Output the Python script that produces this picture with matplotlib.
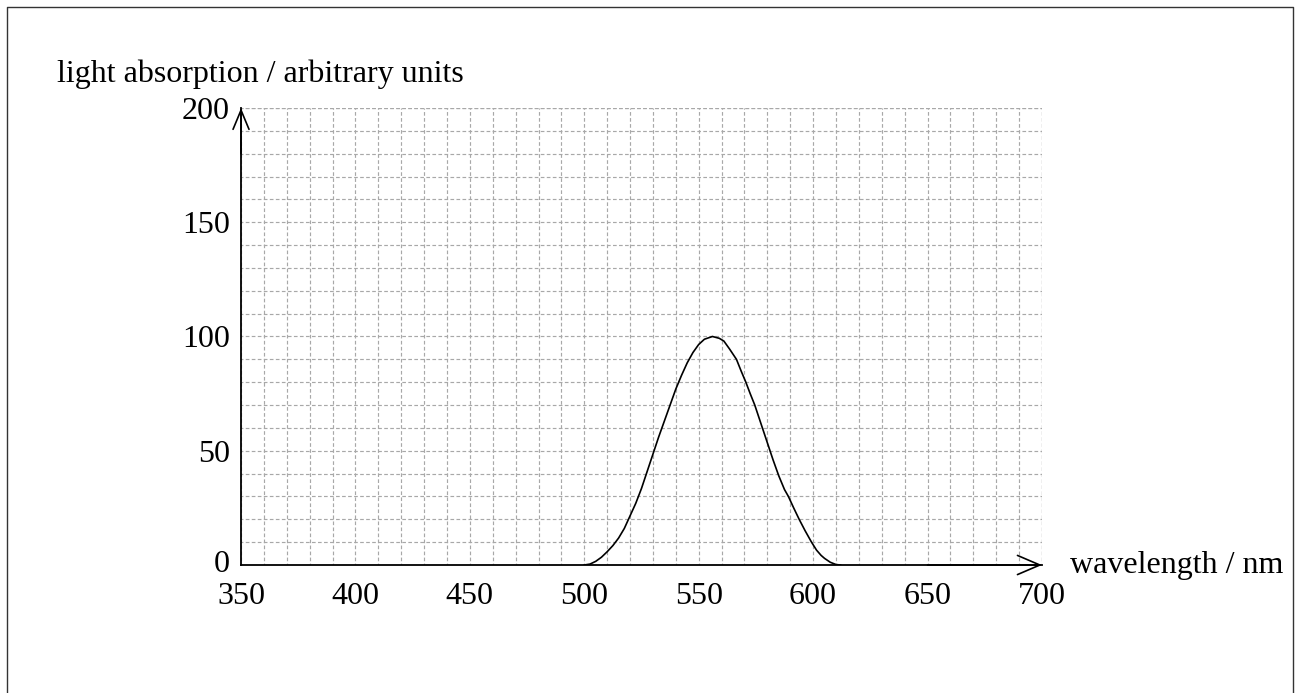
import matplotlib.pyplot as plt
import matplotlib.transforms as mtransforms
from matplotlib.lines import Line2D

# curve
wavelength = [500, 502.5, 505, 507.5, 510, 512.5, 515, 517.5, 520, 522.5, 525,
              527.5, 530, 532.5, 535, 537.5, 540, 542.5, 545, 547.5, 550,
              552.5, 556, 559, 561, 563.5, 566.5, 568.5, 570.6, 572.5, 574.5,
              577, 580, 582.5, 585, 587.5, 589.2, 591.5, 593.9, 596.5, 599.3,
              601.5, 603.5, 605, 607.5, 610, 612]
absorption = [0, 0.4, 1.6, 3.4, 5.8, 8.5, 11.8, 16, 21.5, 27, 33.5,
              41, 48.5, 56, 63, 70, 77, 83, 88.5, 93, 96.5,
              98.8, 100, 99.2, 98, 94.5, 90, 85, 80, 75, 70,
              62.5, 53.5, 46, 39, 33, 30, 25, 20, 15, 10,
              6.5, 4.2, 2.9, 1.2, 0.2, 0]

x_ticks = [350, 400, 450, 500, 550, 600, 650, 700]
y_ticks = [0, 50, 100, 150, 200]

plt.rcParams['font.family'] = ['Liberation Serif', 'DejaVu Serif']
plt.rcParams['font.size'] = 23

fig = plt.figure(figsize=(13, 6.93), dpi=100)
ax = fig.add_axes([0.1854, 0.1847, 0.6161, 0.6595])

ax.plot(wavelength, absorption, color='black', lw=1.2)

ax.set_xlim(350, 700)
ax.set_ylim(0, 200)
ax.set_xticks(x_ticks)
ax.set_yticks(y_ticks)
ax.set_xticks(range(350, 701, 10), minor=True)
ax.set_yticks(range(0, 201, 10), minor=True)
ax.tick_params(which='both', length=0)
ax.tick_params(axis='x', pad=12)
ax.tick_params(axis='y', pad=8)

# lift the "0" a little, as in the original
lbl0 = ax.get_yticklabels()[0]
lbl0.set_transform(lbl0.get_transform() +
                   mtransforms.ScaledTranslation(0, 4 / 100, fig.dpi_scale_trans))

grid_ls = (1.5, (3.1, 2.0))
ax.grid(True, which='both', color='#a8a8a8', lw=0.85, linestyle=grid_ls)
ax.set_axisbelow(True)

for s in ['top', 'right']:
    ax.spines[s].set_visible(False)
for s in ['left', 'bottom']:
    ax.spines[s].set_linewidth(1.3)

# right and top grid edge
ax.axvline(700, color='#a8a8a8', lw=0.85, linestyle=grid_ls)
ax.axhline(200, color='#a8a8a8', lw=0.85, linestyle=grid_ls)

# arrow heads
ax.annotate('', xy=(700, 0), xytext=(650, 0),
            arrowprops=dict(arrowstyle='->,head_length=0.7,head_width=0.3',
                            lw=1.2, color='black', shrinkA=0, shrinkB=0),
            annotation_clip=False)
ax.annotate('', xy=(350, 200), xytext=(350, 180),
            arrowprops=dict(arrowstyle='->,head_length=0.6,head_width=0.25',
                            lw=1.2, color='black', shrinkA=0, shrinkB=0),
            annotation_clip=False)

fig.text(57 / 1300, 1 - 82 / 693, 'light absorption / arbitrary units',
         ha='left', va='baseline')
fig.text(1070 / 1300, 1 - 565 / 693, 'wavelength / nm', ha='left', va='center')

# outer frame
fw, fh = 1300, 693
fig.add_artist(Line2D([7 / fw, 7 / fw, 1293 / fw, 1293 / fw],
                      [0, 1 - 7 / fh, 1 - 7 / fh, 0],
                      transform=fig.transFigure, color='#333333', lw=1))

fig.savefig('out.png', dpi=100)
